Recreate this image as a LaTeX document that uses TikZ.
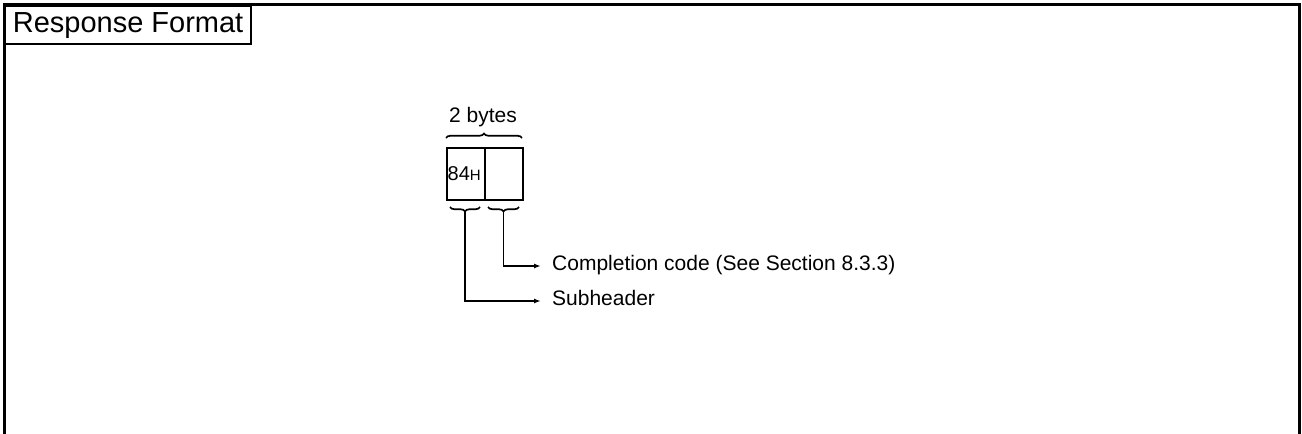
\documentclass[tikz,border=0pt]{standalone}
\usepackage{fontspec}
\setmainfont{Liberation Sans}
\usetikzlibrary{arrows.meta,decorations.pathreplacing,calc}
\begin{document}
\begin{tikzpicture}[x=1pt,y=1pt,
  frameline/.style={line width=3pt},
  cell/.style={draw,line width=2pt,minimum width=38pt,minimum height=52pt,inner sep=0pt,anchor=north west},
  bracestyle/.style={decorate,decoration={brace,amplitude=4.5pt},line width=1.7pt},
  conn/.style={line width=1.7pt,-{Latex[length=7pt,width=5pt]}},
  lbl/.style={font=\fontsize{21}{25}\selectfont,inner sep=0pt}]
\useasboundingbox (0,0) rectangle (1302,434);
% outer frame
\draw[frameline] (4,0) -- (4,429) -- (1299,429) -- (1299,0);
% title
\node[draw,line width=2.2pt,minimum width=246pt,minimum height=38pt,anchor=north west,inner sep=0pt,font=\fontsize{29}{34}\selectfont] (title) at (4,429) {Response Format};
% cells
\node[cell] (ca) at (446,287) {};
\node[cell] (cb) at (484,287) {};
\node[inner sep=0pt,anchor=base west,font=\fontsize{20}{24}\selectfont] (val) at (447.5,253) {84{\fontsize{15}{18}\selectfont H}};
% top brace and label
\coordinate (tbl) at (446,296);
\coordinate (tbr) at (522,296);
\draw[bracestyle] (tbl) -- (tbr);
\node[lbl,anchor=base] (bytes) at (483,311) {2 bytes};
% bottom braces
\coordinate (sbl) at (450,227);
\coordinate (sbr) at (480,227);
\coordinate (cbl) at (488,227);
\coordinate (cbr) at (519,227);
\draw[bracestyle] (sbr) -- (sbl);
\draw[bracestyle] (cbr) -- (cbl);
\coordinate (tipS) at (465,222);
\coordinate (tipC) at (503.5,222);
% labels
\node[lbl,anchor=base west] (comp) at (552,163) {Completion code (See Section 8.3.3)};
\node[lbl,anchor=base west] (sub) at (552,128) {Subheader};
% connectors
\draw[conn] (tipC) |- ([shift={(-11pt,5pt)}]comp.base west);
\draw[conn] (tipS) |- ([shift={(-11pt,5pt)}]sub.base west);
\end{tikzpicture}
\end{document}
